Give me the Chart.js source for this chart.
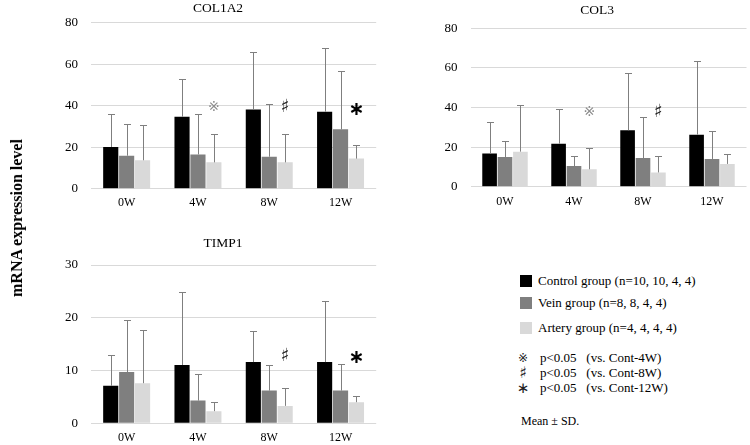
<!DOCTYPE html>
<html lang="en">
<head>
    <meta charset="UTF-8">
    <title>mRNA expression level</title>
    <script src="https://cdn.jsdelivr.net/npm/chart.js"></script>
    <style>
        body, html {
            margin: 0;
            padding: 0;
            background: #fff;
        }

        body {
            width: 750px;
            height: 445px;
            position: relative;
            overflow: hidden;
            font-family: 'Liberation Serif', 'Times New Roman', serif;
            color: #000;
        }

        .panel { position: absolute; }

        /* shared y axis title */
        .y-title {
            position: absolute;
            left: 17px;
            top: 218px;
            transform: translate(-50%, -50%) rotate(-90deg);
            font-weight: bold;
            font-size: 16px;
            white-space: nowrap;
        }

        /* legend block */
        .legend { position: absolute; left: 0; top: 0; font-size: 13px; }
        .legend .row { position: absolute; white-space: nowrap; line-height: 16px; }
        .legend .box { position: absolute; width: 12px; height: 12px; }
        .legend .sym { position: absolute; width: 14px; text-align: center; line-height: 16px; font-family: 'DejaVu Sans', sans-serif; color: #222; }
        .legend .note { position: absolute; font-size: 12px; white-space: nowrap; }
    </style>
</head>
<body>
<canvas class="panel" id="col1a2" width="380" height="210" style="left:0;top:0"></canvas>
<canvas class="panel" id="col3" width="370" height="210" style="left:380px;top:0"></canvas>
<canvas class="panel" id="timp1" width="380" height="235" style="left:0;top:210px"></canvas>

<div class="y-title">mRNA expression level</div>

<div class="legend" id="legend">
    <div class="box" style="left:520px;top:275px"></div>
    <div class="row" style="left:538px;top:273px"></div>
    <div class="box" style="left:520px;top:297px"></div>
    <div class="row" style="left:538px;top:295px"></div>
    <div class="box" style="left:520px;top:322px"></div>
    <div class="row" style="left:538px;top:320px"></div>

    <div class="sym" style="left:516px;top:350px;font-size:12px"></div>
    <div class="row" style="left:540px;top:350px"></div>
    <div class="sym" style="left:516px;top:365px;font-size:16px;font-weight:bold"></div>
    <div class="row" style="left:540px;top:365px"></div>
    <div class="sym" style="left:516px;top:380px;font-size:15px"></div>
    <div class="row" style="left:540px;top:380px"></div>

    <div class="note" style="left:521px;top:414px">Mean ± SD.</div>
</div>

<script>
    // categories and groups
    const weeks = ['0W', '4W', '8W', '12W'];
    const groups = ['Control group (n=10, 10, 4, 4)', 'Vein group (n=8, 8, 4, 4)', 'Artery group (n=4, 4, 4, 4)'];
    const groupColors = ['#000000', '#7f7f7f', '#d9d9d9'];

    // significance legend
    const sigSymbols = ['\u203B', '\u266F', '\u2217'];
    const sigTests = ['p<0.05', 'p<0.05', 'p<0.05'];
    const sigRefs = ['(vs. Cont-4W)', '(vs. Cont-8W)', '(vs. Cont-12W)'];

    // COL1A2 (mean / SD)
    const col1a2Control = [20.1, 34.7, 38.2, 37.1];
    const col1a2ControlSD = [16.0, 18.0, 27.7, 30.9];
    const col1a2Vein = [15.9, 16.5, 15.4, 28.6];
    const col1a2VeinSD = [15.3, 19.3, 25.6, 27.9];
    const col1a2Artery = [13.7, 12.7, 12.7, 14.5];
    const col1a2ArterySD = [16.8, 13.6, 13.6, 6.7];
    const col1a2Marks = ['', '\u203B', '\u266F', '\u2217'];
    const col1a2MarkAt = [null, 39.4, 39.4, 38.0];

    // COL3
    const col3Control = [16.8, 21.7, 28.5, 26.3];
    const col3ControlSD = [16.0, 17.4, 28.8, 37.2];
    const col3Vein = [15.0, 10.4, 14.5, 14.0];
    const col3VeinSD = [7.9, 4.9, 20.9, 14.0];
    const col3Artery = [17.7, 8.8, 7.2, 11.5];
    const col3ArterySD = [23.7, 10.6, 8.3, 5.2];
    const col3Marks = ['', '\u203B', '\u266F', ''];
    const col3MarkAt = [null, 37.4, 37.7, null];

    // TIMP1
    const timp1Control = [7.1, 11.05, 11.6, 11.6];
    const timp1ControlSD = [5.85, 13.75, 5.8, 11.6];
    const timp1Vein = [9.7, 4.3, 6.2, 6.2];
    const timp1VeinSD = [9.9, 5.05, 4.85, 5.0];
    const timp1Artery = [7.6, 2.3, 3.3, 4.0];
    const timp1ArterySD = [10.0, 1.8, 3.3, 1.2];
    const timp1Marks = ['', '', '\u266F', '\u2217'];
    const timp1MarkAt = [null, null, 12.6, 12.4];

    // fill legend text
    const legendBoxes = document.querySelectorAll('#legend .box');
    const legendRows = document.querySelectorAll('#legend .row');
    const legendSyms = document.querySelectorAll('#legend .sym');
    groups.forEach((g, i) => {
        legendBoxes[i].style.background = groupColors[i];
        legendRows[i].textContent = g;
    });
    sigSymbols.forEach((s, i) => {
        legendSyms[i].textContent = s;
        legendRows[3 + i].innerHTML = sigTests[i] + '&nbsp;&nbsp;&nbsp;' + sigRefs[i];
    });

    const FONT = "'Liberation Serif', 'Times New Roman', serif";

    const markStyle = {
        '\u203B': { font: "14px 'DejaVu Sans'", color: '#8c8c8c' },
        '\u266F': { font: "bold 18px 'DejaVu Sans'", color: '#222222' },
        '\u2217': { font: "bold 19px 'DejaVu Sans'", color: '#000000' }
    };

    function makeChart(id, title, series, sds, marks, markAt, yMax, yStep, lay) {
        // panel title, SD whiskers and significance symbols over the artery bar
        const extras = {
            id: 'extras_' + id,
            afterDatasetsDraw(chart) {
                const ctx = chart.ctx;
                const y = chart.scales.y;
                ctx.save();
                ctx.strokeStyle = '#7f7f7f';
                ctx.lineWidth = 1;
                series.forEach((vals, d) => {
                    const meta = chart.getDatasetMeta(d);
                    meta.data.forEach((bar, j) => {
                        const x = Math.round(bar.x) + 0.5;
                        const top = Math.round(y.getPixelForValue(vals[j] + sds[d][j])) + 0.5;
                        ctx.beginPath();
                        ctx.moveTo(x, bar.y);
                        ctx.lineTo(x, top);
                        ctx.moveTo(x - 3.5, top);
                        ctx.lineTo(x + 3.5, top);
                        ctx.stroke();
                    });
                });
                const art = chart.getDatasetMeta(2);
                ctx.textAlign = 'center';
                ctx.textBaseline = 'middle';
                marks.forEach((m, j) => {
                    if (!m) return;
                    const st = markStyle[m];
                    ctx.font = st.font;
                    ctx.fillStyle = st.color;
                    ctx.fillText(m, art.data[j].x, y.getPixelForValue(markAt[j]));
                });
                ctx.font = "13.5px " + FONT;
                ctx.fillStyle = '#000';
                ctx.fillText(title, lay.tX, lay.tY);
                ctx.restore();
            }
        };

        return new Chart(document.getElementById(id), {
            type: 'bar',
            data: {
                labels: weeks,
                datasets: series.map((vals, d) => ({
                    label: groups[d],
                    data: vals,
                    backgroundColor: groupColors[d],
                    borderWidth: 0,
                    categoryPercentage: 0.67,
                    barPercentage: 0.95
                }))
            },
            options: {
                responsive: false,
                animation: false,
                layout: { padding: { left: 0, right: lay.right, top: lay.top, bottom: 0 } },
                scales: {
                    x: {
                        grid: { display: false, drawTicks: false },
                        border: { display: false },
                        ticks: { color: '#000', padding: lay.xPad, font: { family: FONT, size: 12 } },
                        afterFit: (s) => { s.height = lay.xH; }
                    },
                    y: {
                        min: 0,
                        max: yMax,
                        grid: { color: '#d9d9d9', drawTicks: false },
                        border: { display: false },
                        ticks: { stepSize: yStep, color: '#000', padding: 13, font: { family: FONT, size: 13 } },
                        afterFit: (s) => { s.width = lay.yW; }
                    }
                },
                plugins: {
                    legend: { display: false },
                    tooltip: { enabled: false },
                    title: { display: false }
                }
            },
            plugins: [extras]
        });
    }

    makeChart('col1a2', 'COL1A2',
        [col1a2Control, col1a2Vein, col1a2Artery],
        [col1a2ControlSD, col1a2VeinSD, col1a2ArterySD],
        col1a2Marks, col1a2MarkAt, 80, 20,
        { yW: 91, right: 3.8, top: 22.7, xH: 21.3, xPad: 7, tX: 218, tY: 8 });

    makeChart('col3', 'COL3',
        [col3Control, col3Vein, col3Artery],
        [col3ControlSD, col3VeinSD, col3ArterySD],
        col3Marks, col3MarkAt, 80, 20,
        { yW: 90.5, right: 3.5, top: 28.3, xH: 23.3, xPad: 8, tX: 217, tY: 10 });

    makeChart('timp1', 'TIMP1',
        [timp1Control, timp1Vein, timp1Artery],
        [timp1ControlSD, timp1VeinSD, timp1ArterySD],
        timp1Marks, timp1MarkAt, 30, 10,
        { yW: 91, right: 3.8, top: 55, xH: 21.7, xPad: 7, tX: 223, tY: 33 });
</script>
</body>
</html>
